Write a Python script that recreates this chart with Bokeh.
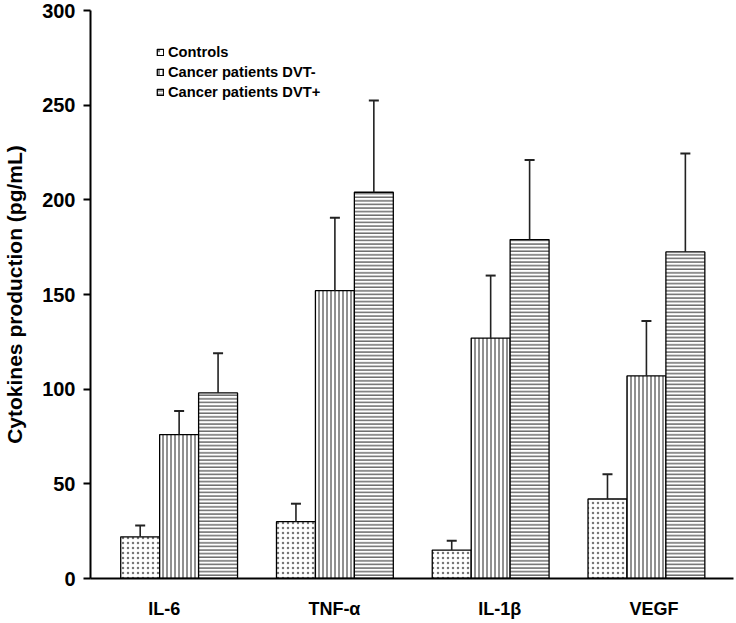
import numpy as np
from bokeh.plotting import figure
from bokeh.models import ColumnDataSource, Whisker, TeeHead, FixedTicker, Range1d, Legend, LegendItem
from bokeh.embed import file_html
from bokeh.resources import INLINE

categories = ["IL-6", "TNF-α", "IL-1β", "VEGF"]
series = ["Controls", "Cancer patients DVT-", "Cancer patients DVT+"]
controls = [22, 30, 15, 42]
controls_err = [6, 9.5, 5, 13]
dvt_neg = [76, 152, 127, 107]
dvt_neg_err = [12.5, 38.5, 33, 29]
dvt_pos = [98, 204, 179, 172.5]
dvt_pos_err = [21, 48.5, 42, 52]
y_ticks = [0, 50, 100, 150, 200, 250, 300]

# horizontal nudges of the category labels (layout only, in category units)
label_nudge = [-0.096, -0.003, 0.058, 0.048]

FONT = "Liberation Sans"

p = figure(width=736, height=623, output_backend="svg", toolbar_location=None,
           x_range=Range1d(-0.569, 3.559), y_range=Range1d(0, 300),
           min_border_left=87, min_border_right=3, min_border_top=10, min_border_bottom=45)
p.outline_line_color = None
p.xgrid.grid_line_color = None
p.ygrid.grid_line_color = None

idx = np.arange(len(categories))
bar_w = 0.25
styles = [
    dict(hatch_pattern="dot", hatch_scale=5, hatch_color="#777777", hatch_weight=1.2),
    dict(hatch_pattern="|", hatch_scale=4, hatch_color="#222222", hatch_weight=1),
    dict(hatch_pattern="-", hatch_scale=3.6, hatch_color="#222222", hatch_weight=1),
]
vals = [controls, dvt_neg, dvt_pos]
errs = [controls_err, dvt_neg_err, dvt_pos_err]
offsets = [-0.25, 0.0, 0.25]
items = []
for name, v, e, off, st in zip(series, vals, errs, offsets, styles):
    v = np.array(v, dtype=float)
    e = np.array(e, dtype=float)
    src = ColumnDataSource(dict(x=idx + off, top=v, upper=v + e))
    r = p.vbar(x="x", top="top", width=bar_w, source=src, fill_color="white",
               line_color="black", line_width=1.3, **st)
    w = Whisker(base="x", lower="top", upper="upper", source=src, dimension="height",
                line_color="#222222", line_width=1.6,
                upper_head=TeeHead(size=10, line_width=2, line_color="#222222"), lower_head=None,
                level="overlay")
    p.add_layout(w)
    items.append(LegendItem(label=name, renderers=[r]))

legend = Legend(items=items, location=(66, 478), glyph_width=8, glyph_height=8,
                label_height=17, spacing=3, label_standoff=4, padding=0, margin=0,
                border_line_color=None, background_fill_alpha=0,
                label_text_font=FONT, label_text_font_style="bold", label_text_font_size="14.7px",
                label_text_color="black")
p.add_layout(legend, "center")

p.yaxis.ticker = FixedTicker(ticks=y_ticks)
p.yaxis.minor_tick_line_color = None
p.yaxis.major_tick_out = 7
p.yaxis.major_tick_in = 0
p.yaxis.major_tick_line_width = 2
p.yaxis.axis_line_width = 2
p.yaxis.major_label_standoff = 8
p.yaxis.major_label_text_font = FONT
p.yaxis.major_label_text_font_style = "bold"
p.yaxis.major_label_text_font_size = "20px"
p.yaxis.major_label_text_color = "black"
p.yaxis.axis_label = "Cytokines production (pg/mL)"
p.yaxis.axis_label_text_font = FONT
p.yaxis.axis_label_text_font_style = "bold"
p.yaxis.axis_label_text_font_size = "21px"
p.yaxis.axis_label_text_color = "black"
p.yaxis.axis_label_standoff = 13

tick_pos = [float(i + n) for i, n in zip(idx, label_nudge)]
p.xaxis.ticker = FixedTicker(ticks=tick_pos)
p.xaxis.major_label_overrides = {t: c for t, c in zip(tick_pos, categories)}
p.xaxis.minor_tick_line_color = None
p.xaxis.major_tick_out = 0
p.xaxis.major_tick_in = 0
p.xaxis.axis_line_width = 2
p.xaxis.major_label_standoff = 20
p.xaxis.major_label_text_font = FONT
p.xaxis.major_label_text_font_style = "bold"
p.xaxis.major_label_text_font_size = "18px"
p.xaxis.major_label_text_color = "black"

open("out.html", "w").write(file_html(p, INLINE))
